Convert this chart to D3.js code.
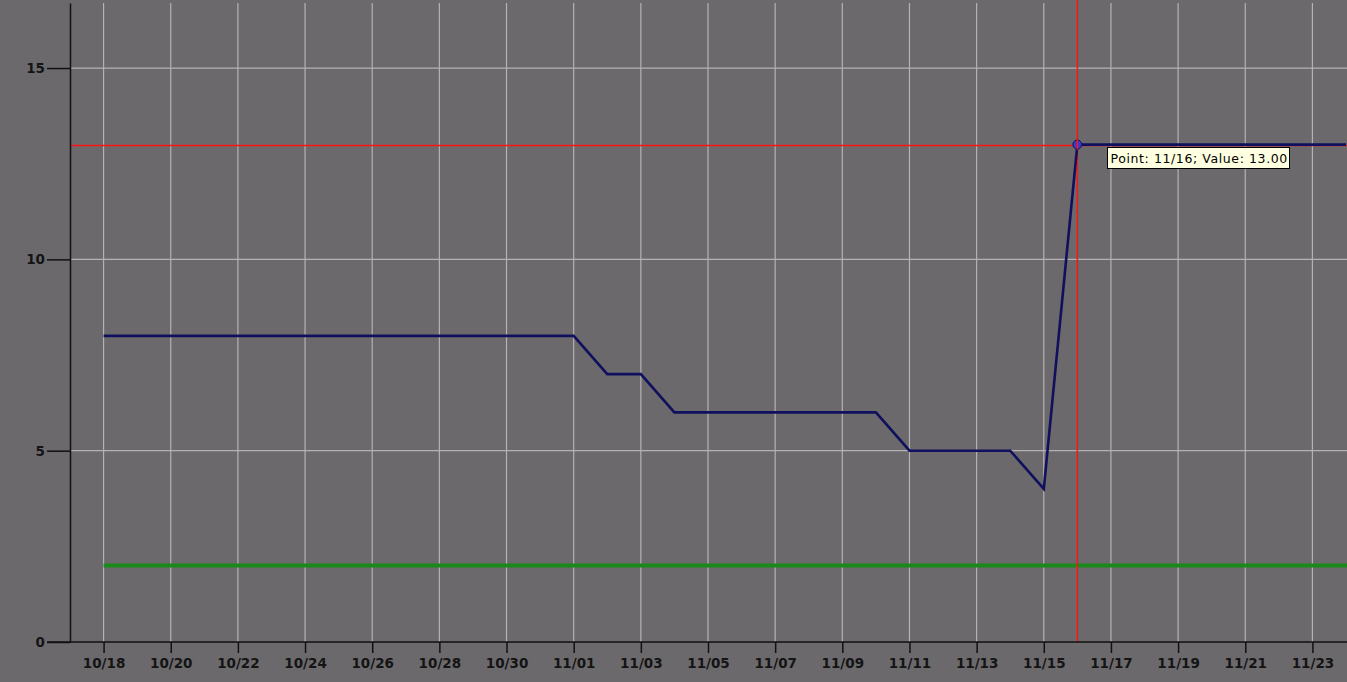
<!DOCTYPE html>
<html>
<head>
<meta charset="utf-8">
<script src="https://cdn.jsdelivr.net/npm/d3@7"></script>
<style>
  html, body { margin: 0; padding: 0; background: #6b696c; overflow: hidden; }
  svg { display: block; }
</style>
</head>
<body>
<script>
// chart data
const dates = [
  "10/18", "10/19", "10/20", "10/21", "10/22", "10/23", "10/24", "10/25",
  "10/26", "10/27", "10/28", "10/29", "10/30", "10/31", "11/01", "11/02",
  "11/03", "11/04", "11/05", "11/06", "11/07", "11/08", "11/09", "11/10",
  "11/11", "11/12", "11/13", "11/14", "11/15", "11/16", "11/17", "11/18",
  "11/19", "11/20", "11/21", "11/22", "11/23", "11/24"
];
const values = [
  8, 8, 8, 8, 8, 8, 8, 8,
  8, 8, 8, 8, 8, 8, 8, 7,
  7, 6, 6, 6, 6, 6, 6, 6,
  5, 5, 5, 5, 4, 13, 13, 13,
  13, 13, 13, 13, 13, 13
];
const thresholdValue = 2;
const yTicks = [0, 5, 10, 15];
const selected = { date: "11/16", value: 13 };

let width = 1347;
let height = 682;

const parse = (s) => {
  const [m, d] = s.split("/").map(Number);
  return new Date(2023, m - 1, d);
};

const svg = d3
  .select("body")
  .append("svg")
  .attr("width", width)
  .attr("height", height);

svg.append("rect")
  .attr("width", width)
  .attr("height", height)
  .attr("fill", "#6b696c");

//Scales
const x = d3
  .scaleTime()
  .domain([new Date(2023, 9, 17), new Date(2023, 10, 24)])
  .range([70, 1346]);

const y = d3.scaleLinear().domain([0, 16.7]).range([642, 3]);

const xTickDates = dates.filter((d, i) => i % 2 === 0 && i < 37).map(parse);

//Grid
svg.append("g")
  .selectAll("line")
  .data(xTickDates)
  .enter()
  .append("line")
  .attr("x1", (d) => x(d))
  .attr("x2", (d) => x(d))
  .attr("y1", y.range()[1])
  .attr("y2", y(0))
  .attr("stroke", "#b4b2b5")
  .attr("stroke-width", 1.2);

svg.append("g")
  .selectAll("line")
  .data(yTicks.filter((d) => d > 0))
  .enter()
  .append("line")
  .attr("x1", x.range()[0])
  .attr("x2", width)
  .attr("y1", (d) => y(d))
  .attr("y2", (d) => y(d))
  .attr("stroke", "#b4b2b5")
  .attr("stroke-width", 1.2);

//Threshold line
const firstDate = parse(dates[0]);
const lastDate = parse(dates[dates.length - 1]);
svg.append("line")
  .attr("x1", x(firstDate))
  .attr("x2", x(lastDate) + 2)
  .attr("y1", y(thresholdValue))
  .attr("y2", y(thresholdValue))
  .attr("stroke", "#1a8a1a")
  .attr("stroke-width", 4);

//Crosshair on the selected point
const px = x(parse(selected.date));
const py = y(selected.value) + 1;

svg.append("line")
  .attr("x1", x.range()[0])
  .attr("x2", width)
  .attr("y1", py)
  .attr("y2", py)
  .attr("stroke", "#ff1414")
  .attr("stroke-width", 1.5);

svg.append("line")
  .attr("x1", px)
  .attr("x2", px)
  .attr("y1", 0)
  .attr("y2", y(0))
  .attr("stroke", "#ff1414")
  .attr("stroke-width", 1.5);

//Series line
const series = dates.map((d, i) => ({ date: parse(d), value: values[i] }));
svg.append("path")
  .datum(series)
  .attr("fill", "none")
  .attr("stroke", "#10105e")
  .attr("stroke-width", 2.6)
  .attr("stroke-linejoin", "miter")
  .attr("d", d3.line().x((d) => x(d.date)).y((d) => y(d.value)));

svg.append("circle")
  .attr("cx", px)
  .attr("cy", y(selected.value))
  .attr("r", 4.5)
  .attr("fill", "#3a3ac8")
  .attr("stroke", "#10105e")
  .attr("stroke-width", 1);

svg.append("line")
  .attr("x1", px)
  .attr("x2", px)
  .attr("y1", y(selected.value) - 5)
  .attr("y2", y(selected.value) + 5)
  .attr("stroke", "#ff1414")
  .attr("stroke-width", 1.5);

//Axes
const xAxis = d3
  .axisBottom(x)
  .tickValues(xTickDates)
  .tickFormat(d3.timeFormat("%m/%d"))
  .tickSize(11)
  .tickSizeOuter(0);

const gx = svg.append("g")
  .attr("transform", `translate(0, ${y(0)})`)
  .call(xAxis);
gx.select(".domain").attr("stroke", "#111").attr("stroke-width", 1.5)
  .attr("d", `M47,0H${width}`);
gx.selectAll(".tick line").attr("stroke", "#111").attr("stroke-width", 1.5);
gx.selectAll(".tick text")
  .attr("y", 16)
  .attr("fill", "#141414")
  .style("font-family", "DejaVu Sans, sans-serif")
  .style("font-size", "13.5px")
  .style("font-weight", "bold");

const yAxis = d3
  .axisLeft(y)
  .tickValues(yTicks)
  .tickSize(23)
  .tickSizeOuter(0);

const gy = svg.append("g")
  .attr("transform", `translate(${x.range()[0]}, 0)`)
  .call(yAxis);
gy.select(".domain").attr("stroke", "#111").attr("stroke-width", 1.5);
gy.selectAll(".tick line").attr("stroke", "#111").attr("stroke-width", 1.5);
gy.selectAll(".tick text")
  .attr("x", -25)
  .attr("fill", "#141414")
  .style("font-family", "DejaVu Sans, sans-serif")
  .style("font-size", "13.5px")
  .style("font-weight", "bold");

//Tooltip
const tip = svg.append("g")
  .attr("transform", `translate(${Math.round(px) + 30.5}, ${Math.round(py) + 1.5})`);
const tipText = tip.append("text")
  .attr("x", 3)
  .attr("y", 15.5)
  .attr("fill", "#000")
  .style("font-family", "DejaVu Sans, sans-serif")
  .style("font-size", "12.5px")
  .style("letter-spacing", "0.6px")
  .text(`Point: ${selected.date}; Value: ${selected.value.toFixed(2)}`);
const bb = tipText.node().getBBox();
tip.insert("rect", "text")
  .attr("x", 0)
  .attr("y", 0)
  .attr("width", Math.round(bb.width + 5))
  .attr("height", 21)
  .attr("fill", "#ffffe1")
  .attr("stroke", "#000")
  .attr("stroke-width", 1);
</script>
</body>
</html>
